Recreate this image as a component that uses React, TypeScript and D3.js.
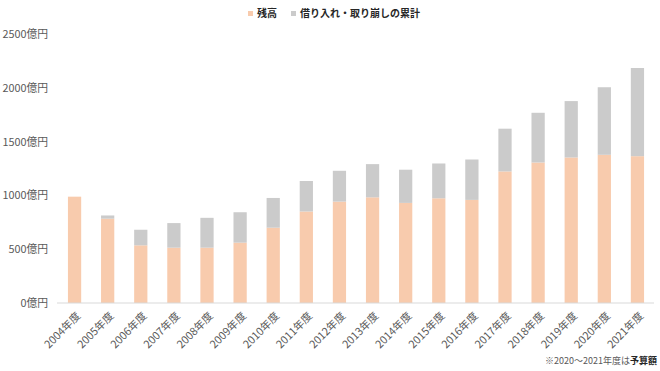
import * as d3 from "d3";

// 年度ラベル
const years = [
  "2004年度", "2005年度", "2006年度", "2007年度", "2008年度", "2009年度",
  "2010年度", "2011年度", "2012年度", "2013年度", "2014年度", "2015年度",
  "2016年度", "2017年度", "2018年度", "2019年度", "2020年度", "2021年度",
];

// 残高 (億円)
const balance = [990, 785, 537, 515, 515, 562, 701, 852, 944, 984, 932, 975, 960, 1225, 1308, 1355, 1380, 1367];

// 借り入れ・取り崩しの累計 (億円)
const cumulative = [0, 30, 145, 229, 278, 283, 277, 284, 287, 309, 309, 324, 376, 398, 463, 525, 629, 821];

const yTicks = [0, 500, 1000, 1500, 2000, 2500];

const seriesNames = ["残高", "借り入れ・取り崩しの累計"];
const seriesColors = ["#F8CBAD", "#CBCBCB"];

const width = 660;
const height = 371;
const font = "'Noto Sans CJK JP', 'Noto Sans', sans-serif";

export default function App() {
  const x = d3.scaleBand<string>().domain(years).range([58, 654]).paddingInner(0.6).paddingOuter(0.3);
  const y = d3.scaleLinear().domain([0, 2500]).range([303, 34.5]);

  const rows = years.map((year, i) => ({ year, balance: balance[i], cumulative: cumulative[i] }));
  const stacked = d3.stack<any>().keys(["balance", "cumulative"])(rows);

  return (
    <svg width={width} height={height} style={{ position: "absolute", left: 0, top: 0 }} fontFamily={font}>
      {/* legend */}
      <g fontSize={10} fontWeight={700} fill="#262626">
        <rect x={248} y={11} width={5} height={5} fill={seriesColors[0]} />
        <text x={257} y={16.5}>{seriesNames[0]}</text>
        <rect x={291} y={11} width={5} height={5} fill={seriesColors[1]} />
        <text x={300} y={16.5}>{seriesNames[1]}</text>
      </g>

      {/* y axis labels */}
      <g fontSize={10.8} fill="#595959" textAnchor="end">
        {yTicks.map((t) => (
          <text key={t} x={48} y={y(t)} dy="0.35em">
            {`${t}億円`}
          </text>
        ))}
      </g>

      {/* bars */}
      {stacked.map((layer, si) => (
        <g key={layer.key} fill={seriesColors[si]}>
          {layer.map((d, i) => (
            <rect
              key={years[i]}
              x={x(years[i])}
              y={y(d[1])}
              width={x.bandwidth()}
              height={Math.max(0, y(d[0]) - y(d[1]))}
            />
          ))}
        </g>
      ))}

      {/* baseline */}
      <line x1={57} x2={654} y1={y(0)} y2={y(0)} stroke="#D9D9D9" strokeWidth={1} />

      {/* x labels */}
      <g fontSize={10.8} fill="#595959" textAnchor="end">
        {years.map((yr) => {
          const cx = (x(yr) ?? 0) + x.bandwidth() / 2 + 4;
          const cy = 314;
          return (
            <text key={yr} transform={`translate(${cx},${cy}) rotate(-45)`} dy="0.35em">
              {yr}
            </text>
          );
        })}
      </g>

      {/* note */}
      <text x={657} y={364} fontSize={9} fill="#595959" textAnchor="end">
        ※2020～2021年度は<tspan fontWeight={700} fill="#262626">予算額</tspan>
      </text>
    </svg>
  );
}
